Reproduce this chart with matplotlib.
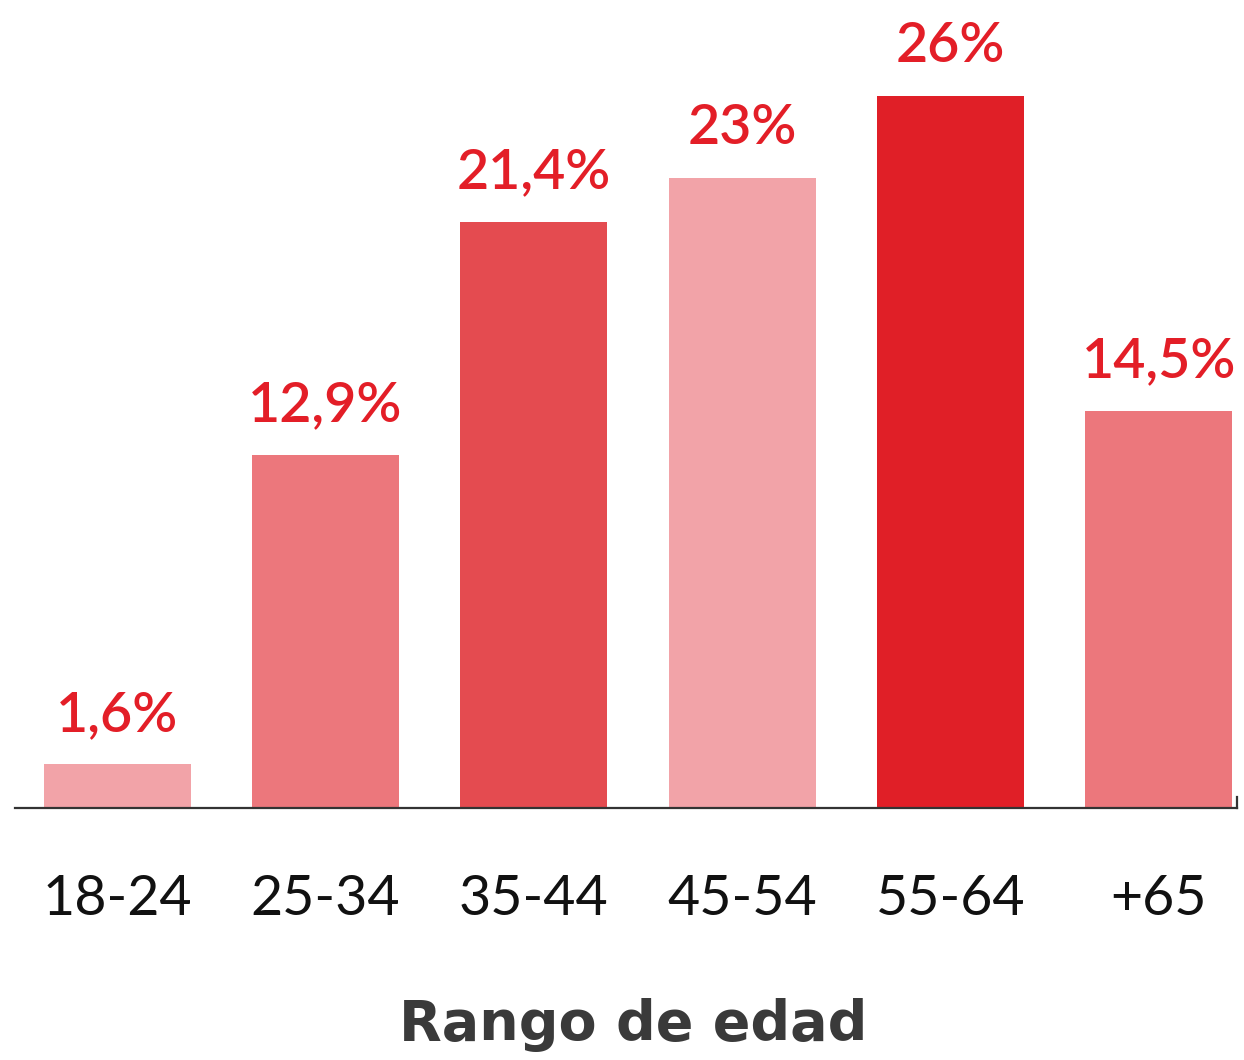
import matplotlib
matplotlib.use("Agg")
import matplotlib.pyplot as plt

categories = ["18-24", "25-34", "35-44", "45-54", "55-64", "+65"]
values = [1.6, 12.9, 21.4, 23.0, 26.0, 14.5]
value_labels = ["1,6%", "12,9%", "21,4%", "23%", "26%", "14,5%"]
colors = ["#F2A3A8", "#EC777C", "#E44B50", "#F2A3A8", "#E01F27", "#EC777C"]
axis_title = "Rango de edad"

plt.rcParams['font.family'] = ['Lato', 'DejaVu Sans']

W, H, DPI = 1244, 1060, 100
fig = plt.figure(figsize=(W / DPI, H / DPI), dpi=DPI)
fig.patch.set_facecolor("white")

base_px = 808
ax = fig.add_axes([15 / W, (H - base_px) / H, (1237 - 15) / W, base_px / H])
ax.set_facecolor("none")

x = list(range(len(categories)))
ax.bar(x, values, width=0.705, color=colors, zorder=2)

ax.set_xlim(-0.49, 5.375)
ax.set_ylim(0, base_px / 27.4)

for i, (v, lab) in enumerate(zip(values, value_labels)):
    ax.annotate(lab, xy=(i, v), xytext=(0, 24), textcoords="offset points",
                ha="center", va="baseline", fontsize=40, color="#E31E27",
                fontweight="semibold")

ax.set_xticks(x)
ax.set_xticklabels(categories, fontsize=40, color="#111111")
ax.tick_params(axis="x", length=0, pad=77)
for t in ax.get_xticklabels():
    t.set_va("baseline")
ax.set_yticks([])
for s in ["top", "left"]:
    ax.spines[s].set_visible(False)
ax.spines["right"].set_bounds(0, 0.4)
ax.spines["right"].set_color("#333333")
ax.spines["right"].set_linewidth(1.6)
ax.spines["bottom"].set_color("#333333")
ax.spines["bottom"].set_linewidth(1.6)

fig.text(633 / W, (H - 1040) / H, axis_title, ha="center", va="baseline",
         fontsize=40, fontweight="bold", color="#3A3A3A",
         family=["DejaVu Sans"])

fig.savefig("out.png", dpi=DPI, facecolor="white")
